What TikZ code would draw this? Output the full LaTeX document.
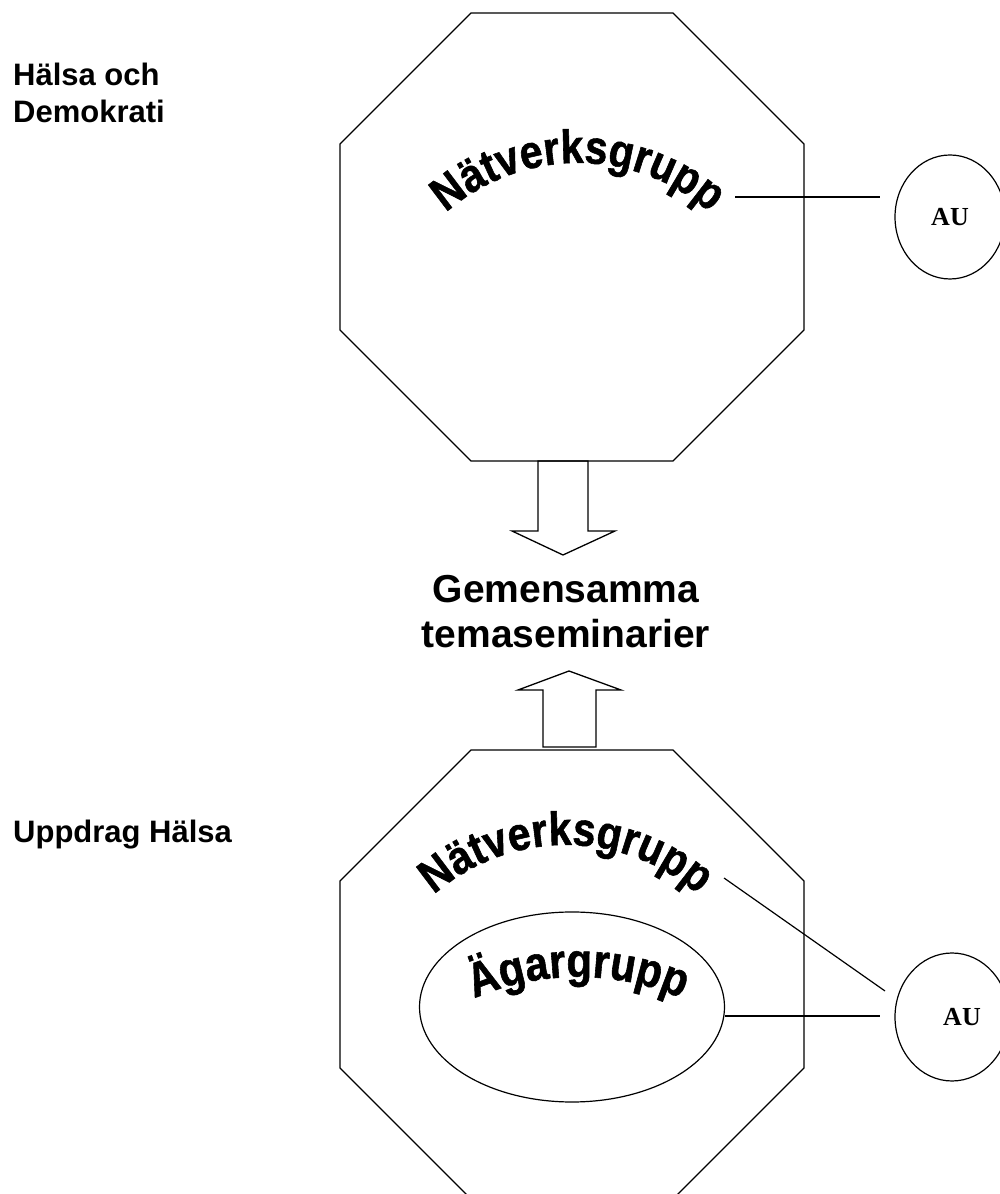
\documentclass[tikz,border=0pt]{standalone}
\usepackage{fontspec}
\setmainfont{Liberation Sans}
\newfontfamily\tnrfam{Liberation Serif}
\newfontfamily\archfam[FakeStretch=0.87,FakeBold=1.2]{Liberation Sans}
\newfontfamily\agfam[FakeStretch=0.87,FakeBold=1.2]{Liberation Sans}
\usetikzlibrary{decorations.text,shapes.geometric}
\newcommand\archtxt{\fontsize{47}{54}\selectfont\archfam\bfseries}
\newcommand\agtxt{\fontsize{48}{55}\selectfont\agfam\bfseries}
\begin{document}
\begin{tikzpicture}[x=1pt,y=1pt,
  shapeline/.style={draw, line width=1.3pt, line join=miter},
  conn/.style={draw, line width=1.2pt},
  aunode/.style={draw, ellipse, line width=1.2pt, inner sep=0pt,
    font={\fontsize{26}{30}\selectfont\tnrfam\bfseries}},
  sidelabel/.style={inner sep=0pt, align=left,
    font={\fontsize{31}{37}\selectfont\bfseries}},
  midlabel/.style={inner sep=0pt, align=center,
    font={\fontsize{39}{45}\selectfont\bfseries}},
  archtext/.style={decorate, decoration={text along path, text={#1}, text align=center}}]
\useasboundingbox (0,0) rectangle (999,1194);
\fill[white] (0,0) rectangle (999,1194);

% top octagon
\draw[shapeline] (471,1181) -- (673,1181) -- (804,1050) -- (804,864)
  -- (673,733) -- (471,733) -- (340,864) -- (340,1050) -- cycle;
% bottom octagon
\draw[shapeline] (471,444) -- (673,444) -- (804,313) -- (804,126)
  -- (673,-5) -- (471,-5) -- (340,126) -- (340,313) -- cycle;

% block arrows
\draw[shapeline] (538,733) -- (538,663) -- (512,663) -- (563,639)
  -- (615,663) -- (588,663) -- (588,733) -- cycle;
\draw[shapeline] (543,447) -- (543,504) -- (518,504) -- (569,523)
  -- (621,504) -- (596,504) -- (596,447) -- cycle;

% inner ellipse
\node[draw, ellipse, line width=1.2pt, minimum width=305pt, minimum height=190pt, inner sep=0pt] (ag) at (572,187) {};

% AU circles
\node[aunode, minimum width=110pt, minimum height=124pt] (au1) at (950,977) {AU};
\node[aunode, minimum width=114pt, minimum height=128pt] (au2) at (952,177) {\hspace*{20pt}AU};

% arched texts
\path[archtext={|\archtxt|Nätverksgrupp}]
  (578,831) ++(170:200) arc[start angle=170, end angle=10, radius=200];
\path[archtext={|\archtxt|Nätverksgrupp}]
  (566,149) ++(170:200) arc[start angle=170, end angle=10, radius=200];
\path[archtext={|\agtxt|Ägargrupp}]
  (578,-43) ++(135:260) arc[start angle=135, end angle=45, radius=260];

% connectors
\coordinate (n1e) at (735,997);
\coordinate (a1w) at (880,997);
\draw[conn] (n1e) -- (a1w);
\coordinate (n2e) at (724,316);
\coordinate (a2nw) at (885,203);
\draw[conn] (n2e) -- (a2nw);
\coordinate (a2w) at (880,178);
\draw[conn] (ag.east |- a2w) -- (a2w);

% labels
\node[sidelabel, anchor=north west] (hd) at (13,1131) {Hälsa och\\Demokrati};
\node[sidelabel, anchor=base west] (uh) at (13,351) {Uppdrag Hälsa};
\node[midlabel, anchor=north] (gt) at (566,619) {Gemensamma\\temaseminarier};
\end{tikzpicture}
\end{document}
